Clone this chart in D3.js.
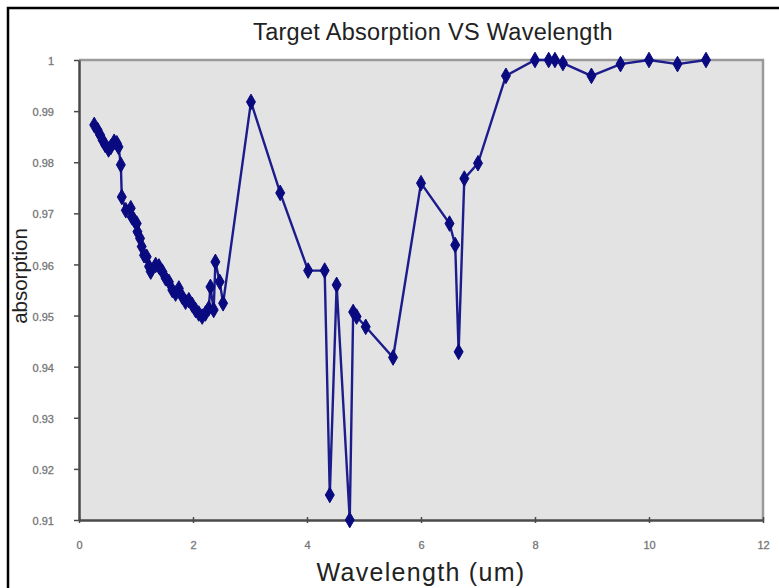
<!DOCTYPE html>
<html>
<head>
<meta charset="utf-8">
<script src="https://cdn.jsdelivr.net/npm/d3@7"></script>
<style>
  body { margin:0; background:#fff; }
  svg { display:block; font-family:"Liberation Sans", Arial, sans-serif; }
</style>
</head>
<body>
<script>
var wavelength = [0.267,0.327,0.372,0.414,0.459,0.519,0.559,0.617,0.664,0.693,
  0.734,0.751,0.821,0.908,0.926,0.966,1.013,1.025,1.071,1.100,
  1.141,1.188,1.228,1.258,1.345,1.403,1.462,1.520,1.577,1.637,
  1.694,1.752,1.811,1.869,1.927,1.986,2.044,2.101,2.161,2.218,
  2.276,2.306,2.363,2.393,2.468,2.528,3.017,3.53,4.02,4.31,
  4.40,4.52,4.75,4.81,4.87,5.03,5.51,6.0,6.5,6.6,
  6.66,6.76,7.0,7.49,8.0,8.24,8.35,8.49,8.99,9.5,
  10.0,10.5,11.0];
var absorption = [0.9873,0.9863,0.9853,0.9843,0.9834,0.9825,0.9830,0.9840,0.9837,0.9830,
  0.9795,0.9732,0.9706,0.9710,0.9693,0.9687,0.9680,0.9664,0.9651,0.9635,
  0.9618,0.9615,0.9596,0.9586,0.9599,0.9596,0.9586,0.9573,0.9566,0.9550,
  0.9543,0.9553,0.9537,0.9527,0.9530,0.9521,0.9511,0.9504,0.9498,0.9504,
  0.9514,0.9556,0.9511,0.9605,0.9566,0.9524,0.9918,0.9740,0.9588,0.9588,
  0.9149,0.9560,0.9100,0.9507,0.9498,0.9478,0.9418,0.9759,0.9680,0.9638,
  0.9429,0.9768,0.9798,0.9969,1.0,1.0,1.0,0.9994,0.9969,0.9992,
  1.0,0.9992,1.0];
var xTicks = [0,2,4,6,8,10,12];
var yTicks = [0.91,0.92,0.93,0.94,0.95,0.96,0.97,0.98,0.99,1];

var W = 779, H = 588;
var m = {left:79, right:16, top:60, bottom:68};
var pw = W - m.left - m.right, ph = H - m.top - m.bottom;

var data = wavelength.map(function(d,i){ return [d, absorption[i]]; });

var svg = d3.select("body").append("svg")
    .attr("width", W).attr("height", H);

// outer frame (only top and left edges show)
svg.append("path")
    .attr("d","M8,588 V8 H779")
    .attr("fill","none").attr("stroke","#000").attr("stroke-width",2.5);

svg.append("text")
    .attr("x", 433).attr("y", 40)
    .attr("text-anchor","middle")
    .attr("font-size",23.5).attr("letter-spacing",0.3).attr("fill","#222")
    .text("Target Absorption VS Wavelength");

var x = d3.scaleLinear().domain([0,12]).range([0,pw]);
var y = d3.scaleLinear().domain([0.91,1]).range([ph,0]);

var g = svg.append("g").attr("transform","translate("+m.left+","+m.top+")");

g.append("rect").attr("width",pw).attr("height",ph).attr("fill","#e3e3e3");
// plot frame top/right
g.append("path").attr("d","M0,0 H"+pw+" V"+ph)
    .attr("fill","none").attr("stroke","#9a9a9a").attr("stroke-width",2.5);

var xa = g.append("g").attr("transform","translate(0,"+ph+")")
    .call(d3.axisBottom(x).tickValues(xTicks).tickSizeInner(3).tickSizeOuter(0).tickPadding(18)
      .tickFormat(d3.format("d")));
xa.selectAll(".tick line").attr("y1",-3);
var ya = g.append("g")
    .call(d3.axisLeft(y).tickValues(yTicks).tickSizeInner(5).tickSizeOuter(0).tickPadding(20)
      .tickFormat(function(d){ return d === 1 ? "1" : d3.format(".2f")(d); }));
ya.selectAll(".tick text").attr("dy","0.42em");
[xa, ya].forEach(function(a){
  a.select(".domain").attr("stroke","#4a4a4a").attr("stroke-width",2.5);
  a.selectAll(".tick line").attr("stroke","#4a4a4a").attr("stroke-width",1.5);
  a.selectAll(".tick text").attr("fill","#666").attr("font-size",11)
    .attr("stroke","#888").attr("stroke-width",0.3)
    .attr("font-family","'Liberation Sans', Arial, sans-serif");
});

var line = d3.line().x(function(d){ return x(d[0]); }).y(function(d){ return y(d[1]); });
g.append("path").datum(data)
    .attr("d", line)
    .attr("fill","none").attr("stroke","#1c1c8c").attr("stroke-width",2.4);

g.selectAll("path.pt").data(data).enter().append("path")
    .attr("class","pt")
    .attr("transform", function(d){ return "translate("+x(d[0])+","+y(d[1])+")"; })
    .attr("d", d3.symbol().type(d3.symbolDiamond).size(70))
    .attr("fill","#0a0a80")
    .attr("stroke","#0a0a80").attr("stroke-width",1).attr("stroke-linejoin","round");

svg.append("text")
    .attr("x", 421).attr("y", 581)
    .attr("text-anchor","middle")
    .attr("font-size",25).attr("letter-spacing",1.3).attr("fill","#222")
    .text("Wavelength (um)");

svg.append("text")
    .attr("transform","translate(27,276) rotate(-90)")
    .attr("text-anchor","middle")
    .attr("font-size",20.5).attr("fill","#222")
    .text("absorption");
</script>
</body>
</html>
